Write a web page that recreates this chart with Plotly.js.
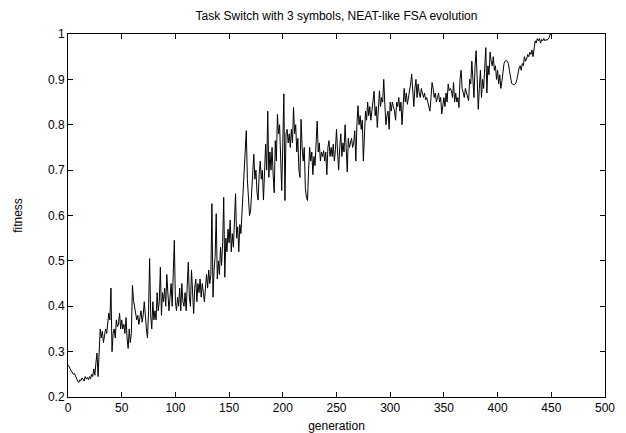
<!DOCTYPE html>
<html>
<head>
<meta charset="utf-8">
<script src="https://cdn.plot.ly/plotly-3.0.1.min.js"></script>
<style>html,body{margin:0;padding:0;background:#fff;}#chart{width:626px;height:433px;}</style>
</head>
<body>
<div id="chart"></div>
<script>
const chartTitle = "Task Switch with 3 symbols, NEAT-like FSA evolution";
const xLabel = "generation";
const yLabel = "fitness";
const xTicks = [0, 50, 100, 150, 200, 250, 300, 350, 400, 450, 500];
const yTicks = [0.2, 0.3, 0.4, 0.5, 0.6, 0.7, 0.8, 0.9, 1];
const fitness = [
0.27,0.268,0.262,0.258,0.255,0.25,0.252,0.245,0.24,0.235,
0.232,0.238,0.236,0.242,0.24,0.235,0.245,0.24,0.243,0.238,
0.245,0.24,0.25,0.245,0.262,0.248,0.275,0.297,0.245,0.32,
0.35,0.33,0.345,0.32,0.335,0.35,0.34,0.36,0.385,0.37,
0.44,0.30,0.34,0.35,0.33,0.37,0.355,0.36,0.385,0.35,
0.37,0.35,0.36,0.34,0.375,0.33,0.307,0.35,0.32,0.34,
0.446,0.413,0.40,0.385,0.37,0.38,0.36,0.375,0.39,0.365,
0.38,0.41,0.37,0.35,0.33,0.39,0.505,0.38,0.35,0.41,
0.37,0.39,0.37,0.43,0.39,0.41,0.486,0.38,0.43,0.41,
0.44,0.40,0.47,0.42,0.39,0.42,0.45,0.40,0.48,0.545,
0.41,0.39,0.42,0.40,0.44,0.39,0.45,0.41,0.40,0.43,
0.39,0.45,0.497,0.42,0.40,0.48,0.42,0.384,0.44,0.46,
0.41,0.45,0.43,0.46,0.42,0.45,0.43,0.41,0.44,0.47,
0.44,0.48,0.45,0.47,0.626,0.42,0.48,0.51,0.604,0.46,
0.50,0.47,0.53,0.49,0.54,0.64,0.464,0.55,0.52,0.57,
0.54,0.59,0.52,0.56,0.53,0.58,0.648,0.55,0.575,0.52,
0.58,0.56,0.61,0.64,0.70,0.74,0.787,0.68,0.64,0.60,
0.61,0.66,0.70,0.735,0.68,0.70,0.65,0.634,0.69,0.72,
0.68,0.70,0.634,0.71,0.757,0.70,0.83,0.684,0.74,0.70,
0.75,0.69,0.65,0.765,0.72,0.823,0.78,0.80,0.73,0.655,
0.76,0.868,0.633,0.78,0.79,0.76,0.78,0.75,0.79,0.76,
0.838,0.78,0.80,0.74,0.77,0.70,0.684,0.812,0.75,0.72,
0.75,0.66,0.64,0.633,0.70,0.75,0.72,0.74,0.69,0.73,
0.71,0.75,0.808,0.74,0.76,0.72,0.74,0.73,0.743,0.72,
0.74,0.69,0.75,0.765,0.73,0.75,0.73,0.757,0.72,0.745,
0.79,0.74,0.70,0.75,0.78,0.73,0.76,0.74,0.80,0.75,
0.696,0.77,0.75,0.76,0.77,0.75,0.76,0.787,0.72,0.80,
0.842,0.80,0.82,0.79,0.81,0.72,0.80,0.83,0.81,0.85,
0.82,0.84,0.81,0.83,0.86,0.874,0.82,0.84,0.794,0.85,
0.875,0.84,0.86,0.85,0.90,0.845,0.80,0.82,0.83,0.79,
0.85,0.83,0.85,0.84,0.83,0.81,0.85,0.84,0.86,0.83,
0.85,0.80,0.86,0.88,0.85,0.87,0.845,0.86,0.87,0.89,
0.912,0.87,0.84,0.88,0.90,0.86,0.89,0.87,0.86,0.88,
0.87,0.86,0.87,0.855,0.86,0.85,0.84,0.83,0.86,0.893,
0.88,0.86,0.87,0.85,0.86,0.87,0.85,0.86,0.824,0.85,
0.86,0.84,0.87,0.85,0.89,0.875,0.88,0.875,0.86,0.893,
0.85,0.87,0.85,0.86,0.838,0.90,0.92,0.88,0.87,0.86,
0.88,0.87,0.86,0.853,0.90,0.89,0.94,0.91,0.86,0.93,
0.963,0.90,0.834,0.88,0.92,0.86,0.90,0.88,0.93,0.97,
0.87,0.93,0.91,0.96,0.94,0.93,0.95,0.92,0.93,0.90,
0.92,0.89,0.91,0.88,0.895,0.92,0.935,0.94,0.942,0.94,
0.935,0.92,0.90,0.892,0.889,0.888,0.889,0.892,0.90,0.915,
0.925,0.93,0.92,0.935,0.93,0.95,0.94,0.945,0.955,0.95,
0.96,0.955,0.965,0.95,0.97,0.985,0.98,0.99,0.985,0.99,
0.98,0.988,0.985,0.99,0.985,0.988,0.986,0.99,0.992,1.0,
1.0,1.0
];
const generations = fitness.map((_, i) => i);

const fam = "Liberation Sans, Arial, Helvetica, sans-serif";
const txt = {family: fam, size: 12, color: "#000"};
const axisCommon = {
  showgrid: false, zeroline: false, showline: true, linecolor: "#000", linewidth: 1,
  mirror: "ticks", ticks: "inside", ticklen: 5, tickcolor: "#000", tickwidth: 1,
  tickfont: txt
};

Plotly.newPlot("chart", [{
  x: generations, y: fitness, type: "scatter", mode: "lines",
  line: {color: "#000", width: 1}, hoverinfo: "skip", showlegend: false
}], {
  width: 626, height: 433,
  margin: {l: 68, r: 21, t: 34, b: 36},
  paper_bgcolor: "#fff", plot_bgcolor: "#fff",
  font: txt,
  title: {text: chartTitle, font: txt,
          x: 0.5, xref: "paper", y: 1 - 16/433, yref: "container", yanchor: "middle"},
  xaxis: Object.assign({}, axisCommon, {
    range: [0, 500], tickvals: xTicks, ticktext: xTicks.map(String),
    title: {text: xLabel, font: txt, standoff: 8}
  }),
  yaxis: Object.assign({}, axisCommon, {
    range: [0.2, 1], tickvals: yTicks, ticktext: yTicks.map(String),
    title: {text: yLabel, font: txt, standoff: 22}
  })
}, {staticPlot: true, displayModeBar: false});
</script>
</body>
</html>
